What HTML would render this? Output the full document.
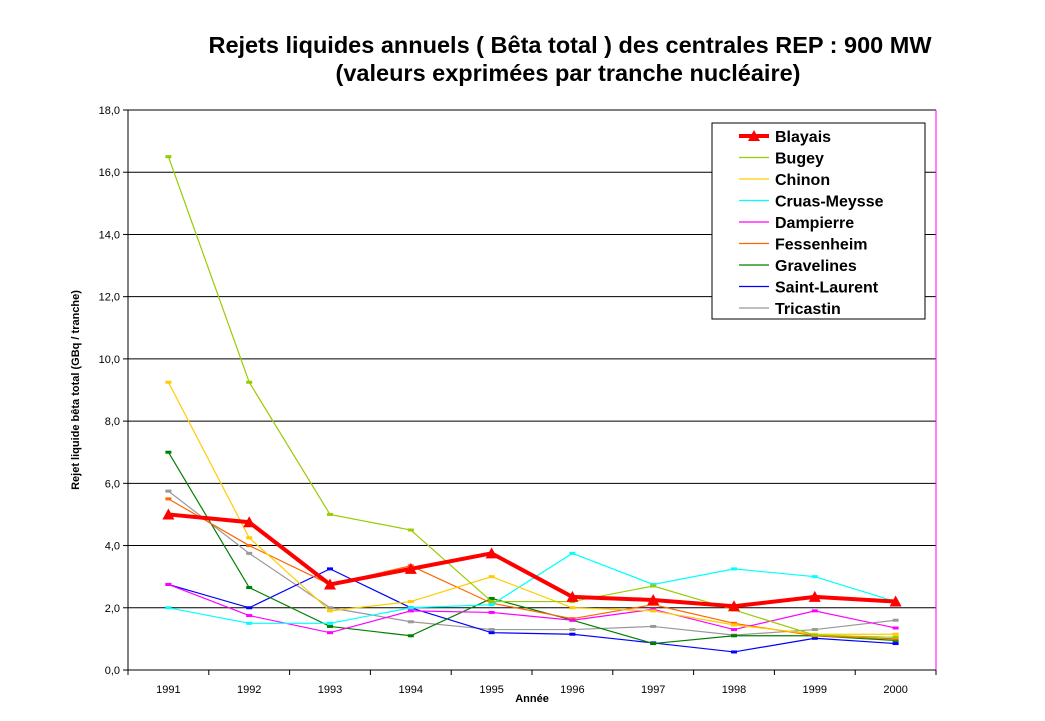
<!DOCTYPE html>
<html><head><meta charset="utf-8"><style>
body{margin:0;background:#fff;font-family:"Liberation Sans",Arial,sans-serif;}
</style></head><body>
<svg id="chart" width="1045" height="716" xmlns="http://www.w3.org/2000/svg" font-family="Liberation Sans, Arial, sans-serif">
<rect width="1045" height="716" fill="#fff"/>
<text x="570" y="53" text-anchor="middle" font-size="23.5" font-weight="bold">Rejets liquides annuels ( Bêta total ) des centrales REP : 900 MW</text>
<text x="568" y="81" text-anchor="middle" font-size="23.5" font-weight="bold">(valeurs exprimées par tranche nucléaire)</text>
<text transform="translate(79,390) rotate(-90)" text-anchor="middle" font-size="11" font-weight="bold">Rejet liquide bêta total (GBq / tranche)</text>
<text x="532" y="702" text-anchor="middle" font-size="11" font-weight="bold">Année</text>
<g id="grid"></g><g id="axes"></g><g id="series"></g><g id="legend"></g>
</svg>
<script>
const years = ["1991","1992","1993","1994","1995","1996","1997","1998","1999","2000"];
const yTicks = [0,2,4,6,8,10,12,14,16,18];
const names = ["Blayais","Bugey","Chinon","Cruas-Meysse","Dampierre","Fessenheim","Gravelines","Saint-Laurent","Tricastin"];
const colors = ["#ff0000","#99cc00","#ffcc00","#00ffff","#ff00ff","#ff6600","#008000","#0000ff","#999999"];
const blayais = [5.0,4.75,2.75,3.25,3.75,2.35,2.25,2.05,2.35,2.2];
const bugey = [16.5,9.25,5.0,4.5,2.2,2.2,2.7,1.93,1.12,1.05];
const chinon = [9.25,4.25,1.9,2.2,3.0,2.0,1.9,1.45,1.15,1.15];
const cruas = [2.0,1.5,1.5,2.0,2.1,3.75,2.75,3.25,3.0,2.2];
const dampierre = [2.75,1.75,1.2,1.9,1.85,1.6,1.95,1.3,1.9,1.35];
const fessenheim = [5.5,4.0,2.75,3.35,2.15,1.65,2.1,1.5,1.1,1.0];
const gravelines = [7.0,2.65,1.4,1.1,2.3,1.6,0.85,1.1,1.1,0.95];
const saintLaurent = [2.75,2.0,3.25,2.0,1.2,1.15,0.87,0.58,1.02,0.85];
const tricastin = [5.75,3.75,2.0,1.55,1.3,1.3,1.4,1.12,1.3,1.6];
const seriesData = [blayais,bugey,chinon,cruas,dampierre,fessenheim,gravelines,saintLaurent,tricastin];
const NS="http://www.w3.org/2000/svg";
const L=128,R=936,T=110,B=670,yMax=18;
const xs=i=>L+(R-L)/years.length*(i+0.5);
const ys=v=>B-(B-T)*v/yMax;
function mk(tag,attrs,parent){const e=document.createElementNS(NS,tag);for(const k in attrs)e.setAttribute(k,attrs[k]);document.getElementById(parent).appendChild(e);return e;}
yTicks.forEach(t=>{
  if(t>0){const g=mk('line',{x1:L,x2:R,y1:ys(t),y2:ys(t),stroke:'#000','stroke-width':1},'grid');
  
  }
  const tk=mk('line',{x1:L-5,x2:L,y1:ys(t),y2:ys(t),stroke:'#000'},'axes');
  
  
  const lb=mk('text',{x:L-8,y:ys(t)+4,'text-anchor':'end','font-size':11},'axes');
  lb.textContent=t.toFixed(1).replace('.',',');
  
  
});
const ax=mk('line',{x1:L,x2:L,y1:T,y2:B,stroke:'#000'},'axes');


const rb=mk('line',{x1:R,x2:R,y1:T,y2:B,stroke:'#ff00ff'},'axes');


const xa=mk('line',{x1:L,x2:R,y1:B,y2:B,stroke:'#000'},'axes');


const step=(R-L)/years.length;
for(let i=0;i<=years.length;i++){const tk=mk('line',{x1:L+step*i,x2:L+step*i,y1:B,y2:B+5,stroke:'#000'},'axes');

}
years.forEach((y,i)=>{const lb=mk('text',{x:xs(i),y:B+23,'text-anchor':'middle','font-size':11},'axes');lb.textContent=y;

});
for(let s=seriesData.length-1;s>=0;s--){
  const d=seriesData[s];const pts=d.map((v,i)=>xs(i)+','+ys(v)).join(' ');
  const pl=mk('polyline',{points:pts,fill:'none',stroke:colors[s],'stroke-width':s===0?4:1.2},'series');
  
  
  d.forEach((v,i)=>{
    let m;
    if(s===0){const x=xs(i),y=ys(v);m=mk('polygon',{points:`${x-6},${y+5} ${x+6},${y+5} ${x},${y-6}`,fill:colors[s]},'series');}
    else m=mk('rect',{x:xs(i)-3,y:ys(v)-1.5,width:6,height:3,fill:colors[s]},'series');
    
    
  });
}
const lbox=mk('rect',{x:712,y:123,width:213,height:196,fill:'#fff',stroke:'#000'},'legend');


names.forEach((n,i)=>{
  const y=136+i*21.5;
  const ln=mk('line',{x1:739,x2:769,y1:y,y2:y,stroke:colors[i],'stroke-width':i===0?4:1.2},'legend');
  
  
  if(i===0){const p=mk('polygon',{points:`748,${y+5} 760,${y+5} 754,${y-6}`,fill:colors[0]},'legend');
  
  }
  const t=mk('text',{x:775,y:y+6,'font-size':16,'font-weight':'bold'},'legend');t.textContent=n;
  
  
});
</script>
</body></html>
